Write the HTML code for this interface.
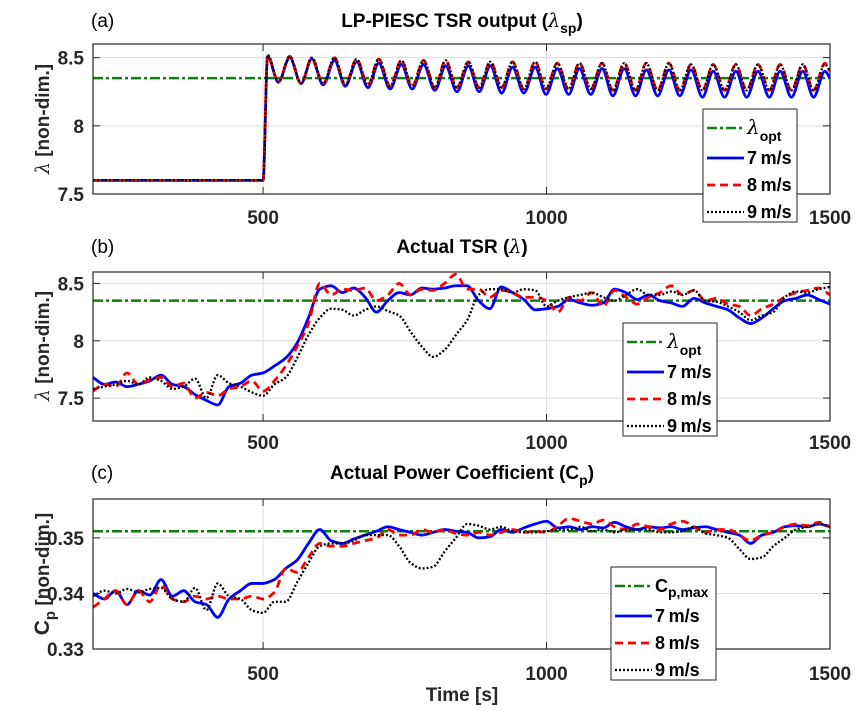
<!DOCTYPE html>
<html><head><meta charset="utf-8"><style>
html,body{margin:0;padding:0;background:#fff;}
svg{display:block;font-family:"Liberation Sans",Arial,sans-serif;}
</style></head><body>
<svg id="fig" width="862" height="722" viewBox="0 0 862 722" xmlns="http://www.w3.org/2000/svg"></svg>
<script>
// ---------- DATA ----------
const xTicks = [500, 1000, 1500];
const xTickLabels = ["500", "1000", "1500"];
const lambdaOpt = 8.35;
const cpMax = 0.3512;

// Panel (a): piecewise extrema
const aTimesStart = [200, 500];
const aValStart = [7.6, 7.6];
const aExtTimes = [508,527,547,567,586,606,626,645,665,685,704,724,744,763,783,803,822,842,862,881,901,921,940,960,980,999,1019,1039,1058,1078,1098,1117,1137,1157,1176,1196,1216,1235,1255,1275,1294,1314,1334,1353,1373,1393,1412,1432,1452,1471,1491];
const aEndTime = 1500;
const a7Peaks = [8.51,8.5,8.49,8.48,8.47,8.46,8.45,8.45,8.44,8.44,8.44,8.43,8.43,8.42,8.42,8.42,8.42,8.41,8.41,8.41,8.40,8.40,8.40,8.40,8.40,8.40];
const a7Troughs = [8.32,8.31,8.3,8.29,8.28,8.27,8.27,8.26,8.25,8.25,8.24,8.24,8.23,8.23,8.23,8.22,8.22,8.22,8.22,8.21,8.21,8.21,8.21,8.21,8.21];
const a8Peaks = [8.52,8.51,8.5,8.5,8.49,8.49,8.48,8.48,8.48,8.47,8.47,8.47,8.47,8.46,8.46,8.46,8.46,8.46,8.46,8.45,8.45,8.45,8.45,8.45,8.45,8.46];
const a8Troughs = [8.32,8.31,8.31,8.3,8.3,8.29,8.29,8.28,8.28,8.28,8.28,8.27,8.27,8.27,8.27,8.26,8.26,8.26,8.26,8.26,8.26,8.26,8.26,8.26,8.26];
const a9Peaks = [8.52,8.51,8.5,8.5,8.49,8.49,8.48,8.48,8.48,8.47,8.47,8.47,8.47,8.46,8.46,8.46,8.46,8.46,8.46,8.45,8.45,8.45,8.45,8.45,8.45,8.45];
const a9Troughs = [8.32,8.31,8.31,8.3,8.3,8.29,8.29,8.28,8.28,8.28,8.28,8.27,8.27,8.27,8.27,8.26,8.26,8.26,8.26,8.26,8.26,8.26,8.26,8.26,8.26];
const aEnd7 = 8.35, aEnd8 = 8.4, aEnd9 = 8.4;

// Panels (b),(c): 20 s sampling from 200 to 1500
const tStart = 200, tStep = 20;
const b7 = [7.68,7.62,7.64,7.6,7.62,7.65,7.7,7.62,7.6,7.53,7.48,7.44,7.6,7.63,7.7,7.72,7.78,7.85,7.98,8.2,8.45,8.48,8.42,8.46,8.38,8.25,8.35,8.42,8.4,8.46,8.45,8.46,8.48,8.48,8.35,8.28,8.47,8.42,8.36,8.27,8.28,8.3,8.36,8.33,8.31,8.33,8.45,8.42,8.36,8.4,8.35,8.33,8.3,8.37,8.33,8.3,8.27,8.2,8.15,8.2,8.28,8.35,8.37,8.4,8.36,8.32];
const b8 = [7.56,7.62,7.6,7.72,7.62,7.66,7.68,7.6,7.63,7.5,7.55,7.52,7.58,7.6,7.65,7.56,7.65,7.78,7.95,8.15,8.5,8.4,8.45,8.44,8.46,8.35,8.4,8.5,8.4,8.45,8.44,8.5,8.58,8.45,8.45,8.38,8.44,8.42,8.38,8.38,8.35,8.25,8.38,8.35,8.42,8.3,8.44,8.38,8.32,8.38,8.42,8.48,8.4,8.44,8.35,8.37,8.32,8.3,8.22,8.28,8.32,8.38,8.42,8.44,8.46,8.4];
const b9 = [7.58,7.6,7.62,7.65,7.62,7.68,7.65,7.58,7.6,7.67,7.5,7.7,7.63,7.6,7.55,7.52,7.62,7.68,7.85,8.05,8.2,8.28,8.27,8.22,8.27,8.3,8.26,8.22,8.08,7.95,7.86,7.92,8.05,8.18,8.4,8.45,8.45,8.42,8.45,8.44,8.3,8.35,8.38,8.4,8.42,8.38,8.35,8.4,8.45,8.4,8.4,8.43,8.4,8.44,8.35,8.34,8.3,8.25,8.18,8.22,8.25,8.38,8.43,8.42,8.45,8.47];
const c7 = [0.340,0.339,0.3405,0.338,0.3405,0.3397,0.3425,0.3395,0.3405,0.3385,0.338,0.3357,0.339,0.3405,0.3418,0.3418,0.3425,0.3445,0.346,0.349,0.3515,0.3495,0.349,0.3498,0.3505,0.3512,0.352,0.3515,0.351,0.3505,0.351,0.3515,0.3512,0.351,0.350,0.3502,0.3515,0.351,0.3518,0.3525,0.353,0.3518,0.352,0.3515,0.352,0.3518,0.3528,0.352,0.3515,0.352,0.3518,0.352,0.3515,0.3518,0.352,0.3515,0.351,0.3505,0.349,0.3505,0.351,0.352,0.3522,0.352,0.3525,0.352];
const c8 = [0.3375,0.339,0.3405,0.338,0.3405,0.3385,0.3415,0.339,0.3385,0.3395,0.339,0.3395,0.339,0.339,0.3395,0.339,0.3402,0.3445,0.3438,0.3465,0.349,0.3485,0.3485,0.349,0.3495,0.35,0.3515,0.3505,0.3505,0.3515,0.351,0.3515,0.3508,0.3505,0.351,0.3505,0.351,0.3515,0.351,0.3512,0.351,0.3522,0.3535,0.353,0.3525,0.3532,0.352,0.3515,0.3525,0.352,0.3515,0.3525,0.353,0.352,0.351,0.3515,0.3515,0.3505,0.3495,0.3505,0.351,0.352,0.3525,0.3522,0.3528,0.352];
const c9 = [0.3395,0.3405,0.340,0.3408,0.3402,0.3408,0.341,0.339,0.3385,0.341,0.337,0.3418,0.3395,0.339,0.337,0.3365,0.3385,0.3385,0.342,0.3455,0.3485,0.349,0.349,0.3495,0.3505,0.3505,0.3505,0.3485,0.3455,0.3445,0.3448,0.3475,0.350,0.3525,0.3522,0.3515,0.352,0.3512,0.351,0.351,0.3512,0.3515,0.3515,0.352,0.3512,0.3515,0.351,0.3515,0.3515,0.3515,0.351,0.351,0.3512,0.352,0.3508,0.3505,0.35,0.348,0.3462,0.3465,0.3485,0.350,0.3515,0.352,0.3525,0.352];

const aYTicks = [7.5, 8, 8.5], aYLabels = ["7.5","8","8.5"];
const bYTicks = [7.5, 8, 8.5], bYLabels = ["7.5","8","8.5"];
const cYTicks = [0.33, 0.34, 0.35], cYLabels = ["0.33","0.34","0.35"];

// ---------- DRAWING ----------
const NS = "http://www.w3.org/2000/svg";
const svg = document.getElementById("fig");
function mk(tag, attrs, parent) {
  const e = document.createElementNS(NS, tag);
  for (const k in attrs) e.setAttribute(k, attrs[k]);
  (parent || svg).appendChild(e);
  return e;
}
const X0 = 93, X1 = 830, XMIN = 200, XMAX = 1500;
function xs(t) { return X0 + (t - XMIN) / (XMAX - XMIN) * (X1 - X0); }
function makeY(top, bot, lo, hi) { return v => bot - (v - lo) / (hi - lo) * (bot - top); }

function monoPath(px, py) {
  const n = px.length;
  if (n < 2) return "";
  const d = [], m = new Array(n);
  for (let i = 0; i < n - 1; i++) d.push((py[i+1]-py[i])/(px[i+1]-px[i]));
  m[0] = d[0]; m[n-1] = d[n-2];
  for (let i = 1; i < n - 1; i++) {
    if (d[i-1]*d[i] <= 0) m[i] = 0;
    else { m[i] = 2/(1/d[i-1] + 1/d[i]); }
  }
  let s = "M" + px[0].toFixed(2) + "," + py[0].toFixed(2);
  for (let i = 0; i < n - 1; i++) {
    const h = px[i+1]-px[i];
    s += " C" + (px[i]+h/3).toFixed(2) + "," + (py[i]+m[i]*h/3).toFixed(2) + " " +
      (px[i+1]-h/3).toFixed(2) + "," + (py[i+1]-m[i+1]*h/3).toFixed(2) + " " +
      px[i+1].toFixed(2) + "," + py[i+1].toFixed(2);
  }
  return s;
}
const STY = {
  s7: {stroke:"#0000ff", "stroke-width":2.8, fill:"none"},
  s8: {stroke:"#ff0000", "stroke-width":2.8, fill:"none", "stroke-dasharray":"8,5"},
  s9: {stroke:"#000000", "stroke-width":2.3, fill:"none", "stroke-dasharray":"2,2"},
  opt: {stroke:"#0e7f0e", "stroke-width":2.5, fill:"none", "stroke-dasharray":"10,3,3,3"}
};

function axes(name, top, bot, lo, hi, yt) {
  const g = mk("g", {});
  
  
  const y = makeY(top, bot, lo, hi);
  xTicks.forEach(t => {
    const l = mk("line", {x1:xs(t), x2:xs(t), y1:top, y2:bot, stroke:"#dedede", "stroke-width":1}, g);
    
    
  });
  yt.forEach(v => {
    const l = mk("line", {x1:X0, x2:X1, y1:y(v), y2:y(v), stroke:"#dedede", "stroke-width":1}, g);
    
    
  });
  return {g, y};
}
function frame(g, top, bot, lo, hi, yt, yl, xLabelY) {
  const y = makeY(top, bot, lo, hi);
  const r = mk("rect", {x:X0, y:top, width:X1-X0, height:bot-top, fill:"none", stroke:"#262626", "stroke-width":1.2}, g);
  
  
  xTicks.forEach((t, i) => {
    mk("line", {x1:xs(t), x2:xs(t), y1:bot, y2:bot-7, stroke:"#262626"}, g);
    mk("line", {x1:xs(t), x2:xs(t), y1:top, y2:top+7, stroke:"#262626"}, g);
    const tx = mk("text", {x:xs(t), y:xLabelY, "text-anchor":"middle", "font-size":19, "font-weight":"bold", fill:"#262626"}, g);
    tx.textContent = xTickLabels[i];
    
    
  });
  yt.forEach((v, i) => {
    mk("line", {x1:X0, x2:X0+7, y1:y(v), y2:y(v), stroke:"#262626"}, g);
    mk("line", {x1:X1, x2:X1-7, y1:y(v), y2:y(v), stroke:"#262626"}, g);
    const tx = mk("text", {x:84, y:y(v)+7, "text-anchor":"end", "font-size":19, "font-weight":"bold", fill:"#262626"}, g);
    tx.textContent = yl[i];
    
    
  });
}
function series(g, name, ts, vs, y, sty, top) {
  const px = ts.map(xs), py = vs.map(y);
  const p = mk("path", Object.assign({d: monoPath(px, py), "clip-path":"url(#clip-"+top+")"}, sty), g);
  
  
}
function hline(g, name, v, y, sty) {
  const p = mk("line", Object.assign({x1:X0, x2:X1, y1:y(v), y2:y(v)}, sty), g);
  
  
}
function legend(name, x, yTop, w, kind) {
  const g = mk("g", {});
  
  
  mk("rect", {x:x, y:yTop, width:w, height:113, fill:"#fff", stroke:"#262626", "stroke-width":1}, g);
  const rows = [["opt", 19], ["s7", 49], ["s8", 76], ["s9", 103]];
  const labels = [null, "7\u2009m/s", "8\u2009m/s", "9\u2009m/s"];
  rows.forEach((r, i) => {
    const ly = yTop + r[1];
    const l = mk("line", Object.assign({x1:x+4, x2:x+41, y1:ly, y2:ly}, STY[r[0]]), g);
    
    
    const t = mk("text", {x:x+44, y:ly+6, "font-size":18, "font-weight":"bold", fill:"#000"}, g);
    
    
    if (i === 0) {
      if (kind === "lambda") {
        const a = mk("tspan", {"font-weight":"normal", "font-size":20, "font-family":"DejaVu Serif, serif", "font-style":"italic"}, t);
        a.textContent = "\u03bb";
        const b = mk("tspan", {dy:7, "font-size":14}, t);
        b.textContent = "opt";
      } else {
        const a = mk("tspan", {}, t); a.textContent = "C";
        const b = mk("tspan", {dy:5, "font-size":14}, t); b.textContent = "p,max";
      }
    } else t.textContent = labels[i];
  });
}
function text(name, x, y, s, attrs) {
  const t = mk("text", Object.assign({x:x, y:y, fill:"#000"}, attrs));
  t.textContent = s;
  
  
  return t;
}

const defs = mk("defs", {});
[[44,194],[272,421],[499,649]].forEach(p => {
  const cp = mk("clipPath", {id:"clip-"+p[0]}, defs);
  mk("rect", {x:X0, y:p[0], width:X1-X0, height:p[1]-p[0]}, cp);
});

function gridT(n){ const a=[]; for(let i=0;i<n;i++) a.push(tStart+i*tStep); return a; }

// Panel A
(function(){
  const top=44, bot=194, lo=7.5, hi=8.6;
  const {g, y} = axes("panel-a", top, bot, lo, hi, aYTicks);
  function build(peaks, troughs, endV) {
    const ts = aTimesStart.slice(), vs = aValStart.slice();
    aExtTimes.forEach((t, i) => { ts.push(t); vs.push(i % 2 === 0 ? peaks[i/2] : troughs[(i-1)/2]); });
    ts.push(aEndTime); vs.push(endV);
    return [ts, vs];
  }
  hline(g, "lambda-opt-line-a", lambdaOpt, y, STY.opt);
  let d = build(a7Peaks, a7Troughs, aEnd7); series(g, "series-7ms-a", d[0], d[1], y, STY.s7, top);
  d = build(a8Peaks, a8Troughs, aEnd8); series(g, "series-8ms-a", d[0], d[1], y, STY.s8, top);
  d = build(a9Peaks, a9Troughs, aEnd9); series(g, "series-9ms-a", d[0], d[1], y, STY.s9, top);
  frame(g, top, bot, lo, hi, aYTicks, aYLabels, 224);
})();
// Panel B
(function(){
  const top=272, bot=421, lo=7.3, hi=8.6;
  const {g, y} = axes("panel-b", top, bot, lo, hi, bYTicks);
  hline(g, "lambda-opt-line-b", lambdaOpt, y, STY.opt);
  series(g, "series-7ms-b", gridT(b7.length), b7, y, STY.s7, top);
  series(g, "series-8ms-b", gridT(b8.length), b8, y, STY.s8, top);
  series(g, "series-9ms-b", gridT(b9.length), b9, y, STY.s9, top);
  frame(g, top, bot, lo, hi, bYTicks, bYLabels, 449);
})();
// Panel C
(function(){
  const top=499, bot=649, lo=0.33, hi=0.357;
  const {g, y} = axes("panel-c", top, bot, lo, hi, cYTicks);
  hline(g, "cp-max-line", cpMax, y, STY.opt);
  series(g, "series-7ms-c", gridT(c7.length), c7, y, STY.s7, top);
  series(g, "series-8ms-c", gridT(c8.length), c8, y, STY.s8, top);
  series(g, "series-9ms-c", gridT(c9.length), c9, y, STY.s9, top);
  frame(g, top, bot, lo, hi, cYTicks, cYLabels, 680);
})();

legend("legend-a", 703, 109, 94, "lambda");
legend("legend-b", 623, 323, 94, "lambda");
legend("legend-c", 611, 567, 105, "cp");

// titles
const tA = text("title-a", 462, 27, "LP-PIESC TSR output (", {"text-anchor":"middle", "font-size":19, "font-weight":"bold"});
let s1 = mk("tspan", {"font-weight":"normal", "font-style":"italic", "font-family":"DejaVu Serif, serif"}, tA); s1.textContent = "\u03bb";
let s2 = mk("tspan", {dy:6, "font-size":14}, tA); s2.textContent = "sp";
let s3 = mk("tspan", {dy:-6}, tA); s3.textContent = ")";
const tB = text("title-b", 462, 253, "Actual TSR (", {"text-anchor":"middle", "font-size":19, "font-weight":"bold"});
s1 = mk("tspan", {"font-weight":"normal", "font-style":"italic", "font-family":"DejaVu Serif, serif"}, tB); s1.textContent = "\u03bb";
s3 = mk("tspan", {}, tB); s3.textContent = ")";
const tC = text("title-c", 462, 479, "Actual Power Coefficient (C", {"text-anchor":"middle", "font-size":19, "font-weight":"bold"});
s2 = mk("tspan", {dy:6, "font-size":14}, tC); s2.textContent = "p";
s3 = mk("tspan", {dy:-6}, tC); s3.textContent = ")";

text("panel-label-a", 91, 27, "(a)", {"font-size":19});
text("panel-label-b", 91, 253, "(b)", {"font-size":19});
text("panel-label-c", 91, 479, "(c)", {"font-size":19});

function ylab(name, cy, parts) {
  const t = text(name, 0, 0, "", {"text-anchor":"middle", "font-size":19, "font-weight":"bold", fill:"#262626", transform:"translate(49,"+cy+") rotate(-90)"});
  parts(t);
}
function lamLab(t){ const a = mk("tspan", {"font-weight":"normal","font-family":"DejaVu Serif, serif","font-style":"italic"}, t); a.textContent="\u03bb"; const b = mk("tspan", {}, t); b.textContent=" [non-dim.]"; }
ylab("y-axis-title-a", 119, lamLab);
ylab("y-axis-title-b", 346, lamLab);
ylab("y-axis-title-c", 574, t => { const a = mk("tspan", {"font-size":21}, t); a.textContent="C"; const b = mk("tspan", {dy:6, "font-size":15}, t); b.textContent="p"; const c = mk("tspan", {dy:-6}, t); c.textContent=" [non-dim.]"; });

text("x-axis-title", 462, 701, "Time [s]", {"text-anchor":"middle", "font-size":19, "font-weight":"bold", fill:"#262626"});
</script>
</body></html>
